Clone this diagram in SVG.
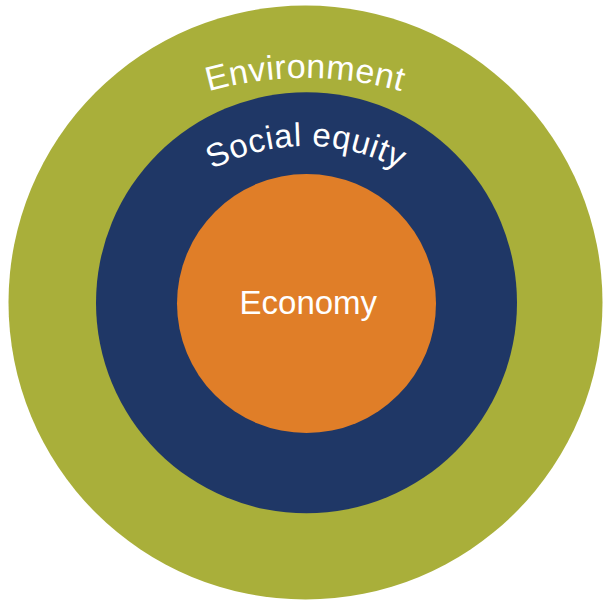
<svg xmlns="http://www.w3.org/2000/svg" xmlns:xlink="http://www.w3.org/1999/xlink" width="605" height="602" viewBox="0 0 605 602">
  <style>
    .label { fill: #ffffff; font-family: "Liberation Sans", Arial, sans-serif; }
  </style>
  <defs>
    <!-- baseline arcs for the curved ring titles -->
    <path id="arc-env" d="M -47 430 A 352 352 0 0 1 657 430"/>
    <path id="arc-soc" d="M 108 344 A 198 198 0 0 1 504 344"/>
  </defs>
  <rect width="605" height="602" fill="#ffffff"/>

  <g id="environment">
    <circle cx="305.5" cy="302.5" r="297" fill="#A9AF3A"/>
    <text class="label" font-size="34" letter-spacing="0.4"><textPath xlink:href="#arc-env" href="#arc-env" startOffset="50%" text-anchor="middle">Environment</textPath></text>
  </g>

  <g id="social-equity">
    <circle cx="306.5" cy="302.8" r="210.5" fill="#1F3766"/>
    <text class="label" font-size="33" letter-spacing="0.6"><textPath xlink:href="#arc-soc" href="#arc-soc" startOffset="50%" text-anchor="middle">Social equity</textPath></text>
  </g>

  <g id="economy">
    <circle cx="306.5" cy="303.5" r="129.5" fill="#E07E28"/>
    <text class="label" x="308.3" y="313.5" font-size="33" text-anchor="middle">Economy</text>
  </g>

  <g id="connectors"/>
</svg>
